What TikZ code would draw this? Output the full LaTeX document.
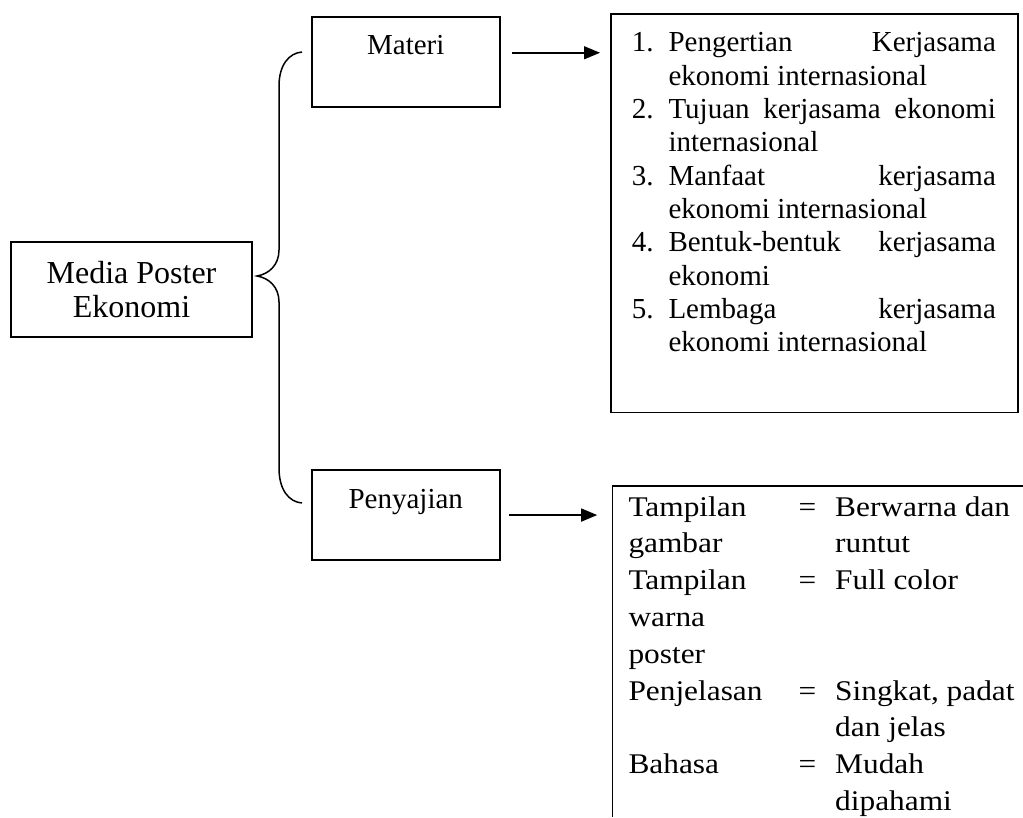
\documentclass[tikz,border=0pt]{standalone}
\usepackage{fontspec}
\setmainfont{Liberation Serif}
\newfontfamily\tabfont[FakeStretch=1.1]{Liberation Serif}
\usetikzlibrary{arrows.meta}
\begin{document}
\begin{tikzpicture}[x=1pt,y=-1pt,
  box/.style={draw,line width=1.5pt,inner sep=0pt},
  toplabel/.style={box,minimum width=188pt,text height=38pt,text depth=52pt,anchor=north west,font=\fontsize{29}{33}\selectfont},
  arr/.style={line width=1.5pt,-{Triangle[length=16pt,width=13pt]}},
  lst/.style={anchor=base west,inner sep=0pt,font=\fontsize{29}{33}\selectfont},
  tab/.style={anchor=base west,inner sep=0pt,font=\tabfont\fontsize{28.5}{33}\selectfont},
  bracel/.style={line width=1.5pt}]
\useasboundingbox (0,0) rectangle (1023,817);
% boxes
\node[box,minimum width=241pt,minimum height=95pt,align=center,font=\fontsize{32}{34}\selectfont] (media) at (131.5,289.5) {Media Poster\\Ekonomi};
\node[toplabel] (materi) at (311,16) {Materi};
\node[toplabel] (penyajian) at (311,469.3) {Penyajian};
\node[box,minimum width=407pt,minimum height=398.4pt,anchor=north west] (list) at (610,13.3) {};
% table frame (open at right and bottom)
\coordinate (tabTL) at (612.7,486);
\coordinate (tabTR) at (1023,486);
\coordinate (tabBL) at (612.7,817);
\draw[line width=1.5pt] (tabTR) -- (tabTL) -- (tabBL);
% brace
\coordinate (bTop) at (302,52);
\coordinate (bTip) at (257,276);
\coordinate (bBot) at (302,503);
\draw[bracel] (bTop) .. controls (289,53) and (279,65) .. (279,86) -- (279,250)
  .. controls (279,265) and (269,274) .. (bTip)
  .. controls (269,278) and (279,287) .. (279,302) -- (279,468)
  .. controls (279,490) and (289,502) .. (bBot);
% arrows
\coordinate (a1s) at ([xshift=11.5pt,yshift=9pt]materi.east);
\draw[arr,shorten >=10pt] (a1s) -- (a1s -| list.west);
\coordinate (a2s) at ([xshift=8pt]penyajian.east);
\draw[arr,shorten >=15.5pt] (a2s) -- (a2s -| tabTL);
% list text
\node[lst] (n1) at (631.7,51.7) {1.};
\node[lst] (l1) at (668.3,51.7) {\makebox[327.4pt][s]{Pengertian \hfill Kerjasama}};
\node[lst] (l2) at (668.3,85) {ekonomi internasional};
\node[lst] (n2) at (631.7,118.3) {2.};
\node[lst] (l3) at (668.3,118.3) {\makebox[327.4pt][s]{Tujuan kerjasama ekonomi}};
\node[lst] (l4) at (668.3,151.7) {internasional};
\node[lst] (n3) at (631.7,185) {3.};
\node[lst] (l5) at (668.3,185) {\makebox[327.4pt][s]{Manfaat \hfill kerjasama}};
\node[lst] (l6) at (668.3,218.3) {ekonomi internasional};
\node[lst] (n4) at (631.7,251.7) {4.};
\node[lst] (l7) at (668.3,251.7) {\makebox[327.4pt][s]{Bentuk-bentuk \hfill kerjasama}};
\node[lst] (l8) at (668.3,285) {ekonomi};
\node[lst] (n5) at (631.7,318.3) {5.};
\node[lst] (l9) at (668.3,318.3) {\makebox[327.4pt][s]{Lembaga \hfill kerjasama}};
\node[lst] (l10) at (668.3,351.7) {ekonomi internasional};
% table text
\node[tab] (t1a) at (628.3,516) {Tampilan};
\node[tab] (t1b) at (798.3,516) {=};
\node[tab] (t1c) at (835,516) {Berwarna dan};
\node[tab] (t2a) at (628.3,552.8) {gambar};
\node[tab] (t2c) at (835,552.8) {runtut};
\node[tab] (t3a) at (628.3,589.6) {Tampilan};
\node[tab] (t3b) at (798.3,589.6) {=};
\node[tab] (t3c) at (835,589.6) {Full color};
\node[tab] (t4a) at (628.3,626.4) {warna};
\node[tab] (t5a) at (628.3,663.2) {poster};
\node[tab] (t6a) at (628.3,700) {Penjelasan};
\node[tab] (t6b) at (798.3,700) {=};
\node[tab] (t6c) at (835,700) {Singkat, padat};
\node[tab] (t7c) at (835,736.8) {dan jelas};
\node[tab] (t8a) at (628.3,773.6) {Bahasa};
\node[tab] (t8b) at (798.3,773.6) {=};
\node[tab] (t8c) at (835,773.6) {Mudah};
\node[tab] (t9c) at (835,810.4) {dipahami};
\end{tikzpicture}
\end{document}
